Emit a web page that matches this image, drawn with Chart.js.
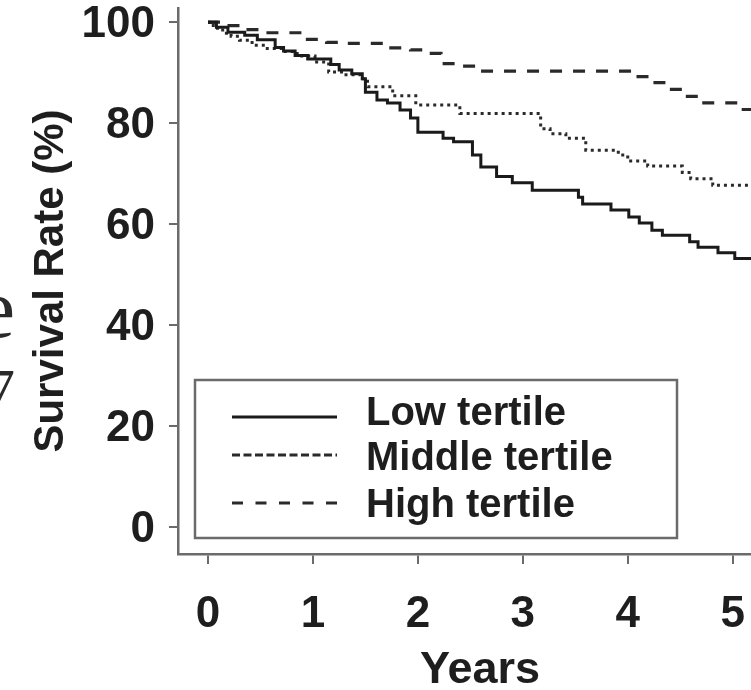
<!DOCTYPE html>
<html>
<head>
<meta charset="utf-8">
<title>Survival by tertile</title>
<script src="https://cdn.jsdelivr.net/npm/chart.js@4.4.1/dist/chart.umd.min.js"></script>
<style>
  html, body { margin: 0; padding: 0; overflow: hidden; background: #fff; }
  #wrap { width: 790px; height: 690px; position: relative; }
</style>
</head>
<body>
<div id="wrap"><canvas id="km" width="790" height="690"></canvas></div>
<script>
// Kaplan-Meier step data: each value holds from its year until the next one
const seriesLabels = ['Low tertile', 'Middle tertile', 'High tertile'];

const lowYears = [0, 0.08, 0.19, 0.35, 0.47, 0.64, 0.72, 0.83, 0.95, 1.17,
                  1.25, 1.37, 1.47, 1.50, 1.61, 1.71, 1.83, 1.93, 2.00, 2.24,
                  2.34, 2.52, 2.60, 2.75, 2.90, 3.09, 3.53, 3.57, 3.84, 4.01,
                  4.11, 4.23, 4.33, 4.59, 4.67, 4.86, 5.02, 5.25];
const lowSurvival = [100, 99.0, 98.0, 97.4, 96.5, 95.0, 94.3, 93.4, 92.7, 91.6,
                     90.5, 89.8, 88.8, 86.1, 84.6, 84.0, 82.6, 81.0, 78.2, 77.0,
                     76.3, 73.7, 71.3, 69.4, 68.2, 66.7, 65.3, 64.0, 62.8, 61.4,
                     60.2, 58.8, 57.8, 56.5, 55.4, 54.3, 53.2, 53.2];

const middleYears = [0, 0.05, 0.14, 0.22, 0.30, 0.42, 0.55, 0.72, 0.85, 1.02,
                     1.15, 1.30, 1.45, 1.52, 1.76, 1.98, 2.40, 3.17, 3.26, 3.41,
                     3.60, 3.91, 4.00, 4.19, 4.52, 4.60, 4.81, 5.25];
const middleSurvival = [100, 98.8, 97.8, 97.2, 96.4, 95.4, 94.8, 94.2, 93.3, 92.1,
                        90.1, 89.6, 88.8, 87.2, 85.4, 83.6, 81.9, 78.9, 77.9, 77.0,
                        74.6, 73.7, 72.5, 71.5, 70.2, 69.0, 67.7, 67.7];

const highYears = [0, 0.12, 0.35, 0.52, 0.90, 1.13, 1.30, 1.70, 1.93, 2.10,
                   2.22, 2.40, 2.57, 4.05, 4.23, 4.38, 4.53, 4.69, 5.07, 5.25];
const highSurvival = [100, 99.3, 98.5, 97.9, 96.6, 96.0, 95.8, 94.9, 94.5, 93.8,
                      91.8, 91.3, 90.3, 89.2, 88.0, 86.7, 85.3, 84.0, 82.7, 82.7];

const xTickValues = [0, 1, 2, 3, 4, 5];
const yTickValues = [0, 20, 40, 60, 80, 100];
const xTitle = 'Years';
const yTitle = 'Survival Rate (%)';
const marginNotes = ['e', '7'];

const FONT = "'Liberation Sans', Arial, Helvetica, sans-serif";
const INK = '#1e1e1e';
const AXIS = '#6b6b6b';

Chart.defaults.font.family = FONT;
Chart.defaults.color = INK;

const toPoints = (xs, ys) => xs.map((x, i) => ({ x: x, y: ys[i] }));

// Framed legend drawn inside the plot area
const legendBox = {
  id: 'legendBox',
  afterDatasetsDraw(chart) {
    const ctx = chart.ctx;
    const a = chart.chartArea;
    const left = a.left + 17, top = a.top + 372, w = 482, h = 158;
    ctx.save();
    ctx.strokeStyle = AXIS;
    ctx.lineWidth = 2.5;
    ctx.strokeRect(left, top, w, h);
    const lineY = [37, 75, 123];
    const textY = [45, 90, 137];
    chart.data.datasets.forEach((ds, i) => {
      ctx.beginPath();
      ctx.setLineDash(ds.legendDash);
      ctx.strokeStyle = ds.borderColor;
      ctx.lineWidth = 3;
      ctx.moveTo(left + 37, top + lineY[i]);
      ctx.lineTo(left + 142, top + lineY[i]);
      ctx.stroke();
      ctx.setLineDash([]);
      ctx.fillStyle = INK;
      ctx.font = 'bold 40px ' + FONT;
      ctx.textAlign = 'left';
      ctx.textBaseline = 'alphabetic';
      ctx.fillText(ds.label, left + 171, top + textY[i]);
    });
    ctx.restore();
  }
};

// Edge of neighbouring page text at the far left
const marginText = {
  id: 'marginText',
  afterDraw(chart) {
    const ctx = chart.ctx;
    ctx.save();
    ctx.fillStyle = '#2a2a2a';
    ctx.textAlign = 'right';
    ctx.textBaseline = 'alphabetic';
    ctx.font = "84px 'Liberation Serif', 'Times New Roman', serif";
    ctx.fillText(marginNotes[0], 15, 337);
    ctx.font = "60px 'Liberation Serif', 'Times New Roman', serif";
    ctx.fillText(marginNotes[1], 15, 410);
    ctx.restore();
  }
};

new Chart(document.getElementById('km'), {
  type: 'line',
  data: {
    datasets: [
      { label: seriesLabels[0], data: toPoints(lowYears, lowSurvival),
        borderColor: '#1a1a1a', borderWidth: 3, borderDash: [], legendDash: [],
        stepped: 'before', pointRadius: 0, fill: false },
      { label: seriesLabels[1], data: toPoints(middleYears, middleSurvival),
        borderColor: '#2a2a2a', borderWidth: 3, borderDash: [3, 4], legendDash: [8, 3.5],
        stepped: 'before', pointRadius: 0, fill: false },
      { label: seriesLabels[2], data: toPoints(highYears, highSurvival),
        borderColor: '#2a2a2a', borderWidth: 3.2, borderDash: [12, 11], legendDash: [11, 12.5],
        stepped: 'before', pointRadius: 0, fill: false }
    ]
  },
  options: {
    responsive: false,
    animation: false,
    devicePixelRatio: 1,
    layout: { padding: { top: 8, right: 8, bottom: 0, left: 0 } },
    plugins: { legend: { display: false }, tooltip: { enabled: false } },
    scales: {
      x: {
        type: 'linear', min: -0.286, max: 5.47,
        afterBuildTicks: s => { s.ticks = xTickValues.map(v => ({ value: v })); },
        afterFit: s => { s.height = 136; s.paddingLeft = 0; s.paddingRight = 0; },
        grid: { drawOnChartArea: false, drawTicks: true, tickLength: 10, color: AXIS, lineWidth: 2 },
        border: { display: true, color: AXIS, width: 2.5 },
        ticks: { font: { size: 44, weight: 'bold' }, padding: 24, maxRotation: 0, autoSkip: false, color: INK },
        title: { display: true, text: xTitle, color: INK,
                 font: { size: 45, weight: 'bold' }, padding: { top: 0, bottom: -8 } }
      },
      y: {
        type: 'linear', min: -5.35, max: 102.8,
        afterBuildTicks: s => { s.ticks = yTickValues.map(v => ({ value: v })); },
        afterFit: s => { s.width = 178; s.paddingTop = 0; s.paddingBottom = 0; },
        grid: { drawOnChartArea: false, drawTicks: true, tickLength: 9, color: AXIS, lineWidth: 2 },
        border: { display: true, color: AXIS, width: 2.5 },
        ticks: { font: { size: 44, weight: 'bold' }, padding: 14, labelOffset: 3, autoSkip: false, color: INK },
        title: { display: true, text: yTitle, color: INK,
                 font: { size: 42, weight: 'bold' }, padding: { top: 26, bottom: 0 } }
      }
    }
  },
  plugins: [legendBox, marginText]
});
</script>
</body>
</html>
